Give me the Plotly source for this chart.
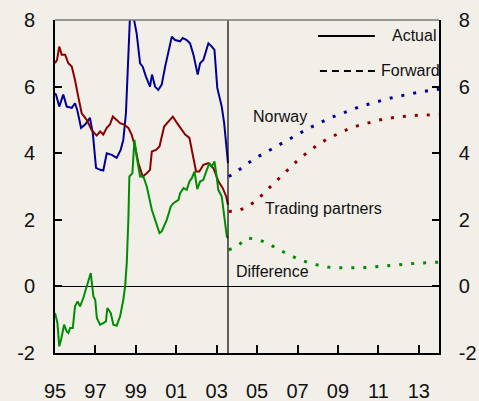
import plotly.graph_objects as go

# Norway, actual
no_years = [1995.0, 1995.05, 1995.21, 1995.41, 1995.58, 1995.83, 1995.99, 1996.1, 1996.29, 1996.49,
            1996.73, 1996.87, 1997.03, 1997.23, 1997.39, 1997.56, 1997.81, 1998.05, 1998.25, 1998.38,
            1998.51, 1998.63, 1998.71, 1998.88, 1999.04, 1999.21, 1999.34, 1999.5, 1999.7, 1999.8,
            1999.95, 2000.11, 2000.28, 2000.45, 2000.61, 2000.78, 2000.94, 2001.19, 2001.32, 2001.52,
            2001.68, 2001.85, 2002.06, 2002.18, 2002.34, 2002.59, 2002.76, 2002.89, 2003.03, 2003.25,
            2003.37, 2003.5, 2003.56]
no_actual = [5.8, 5.76, 5.4, 5.76, 5.4, 5.36, 5.5, 5.3, 4.76, 4.86,
             5.06, 4.6, 3.56, 3.5, 3.48, 4.0, 3.95, 3.86, 4.1, 4.4,
             5.2, 7.1, 8.1, 8.1, 7.6, 6.7, 6.6, 6.3, 6.0, 6.36,
             6.0, 5.9, 6.06, 6.6, 7.0, 7.5, 7.4, 7.36, 7.46, 7.4,
             7.3, 6.96, 6.36, 6.7, 6.8, 7.3, 7.2, 7.1, 5.96, 5.4,
             4.9, 4.2, 3.7]

# Trading partners, actual
tp_years = [1995.0, 1995.1, 1995.21, 1995.33, 1995.5, 1995.66, 1995.83, 1995.99, 1996.15, 1996.32,
            1996.57, 1996.81, 1997.06, 1997.23, 1997.39, 1997.56, 1997.72, 1997.86, 1998.05, 1998.22,
            1998.42, 1998.63, 1998.79, 1998.96, 1999.13, 1999.34, 1999.54, 1999.7, 1999.79, 2000.0,
            2000.17, 2000.28, 2000.4, 2000.61, 2000.83, 2000.99, 2001.19, 2001.44, 2001.65, 2001.82,
            2001.98, 2002.14, 2002.34, 2002.59, 2002.84, 2003.09, 2003.3, 2003.47, 2003.56]
tp_actual = [6.7, 6.8, 7.2, 6.96, 6.96, 6.7, 6.6, 6.2, 5.7, 5.2,
             5.0, 4.7, 4.53, 4.65, 4.56, 4.76, 4.86, 5.1, 5.0, 4.9,
             4.86, 4.76, 4.56, 4.2, 3.7, 3.3, 3.4, 3.5, 4.05, 4.1,
             4.2, 4.5, 4.8, 4.95, 5.1, 4.95, 4.76, 4.56, 4.46, 3.9,
             3.45, 3.45, 3.65, 3.7, 3.55, 3.15, 2.95, 2.7, 2.45]

# Difference, actual
df_years = [1995.0, 1995.05, 1995.12, 1995.21, 1995.3, 1995.45, 1995.58, 1995.66, 1995.75, 1995.88,
            1995.99, 1996.12, 1996.24, 1996.4, 1996.57, 1996.77, 1996.9, 1996.99, 1997.07, 1997.23,
            1997.39, 1997.52, 1997.59, 1997.76, 1997.89, 1998.05, 1998.22, 1998.38, 1998.47, 1998.55,
            1998.63, 1998.68, 1998.83, 1998.93, 1999.04, 1999.21, 1999.37, 1999.54, 1999.79, 2000.0,
            2000.17, 2000.28, 2000.53, 2000.73, 2000.86, 2001.11, 2001.19, 2001.36, 2001.52, 2001.65,
            2001.77, 2001.9, 2002.04, 2002.18, 2002.34, 2002.51, 2002.64, 2002.76, 2002.89, 2003.0,
            2003.08, 2003.25, 2003.45, 2003.5, 2003.56]
df_actual = [-0.8, -0.95, -1.1, -1.8, -1.6, -1.15, -1.35, -1.4, -1.25, -1.25,
             -0.6, -0.45, -0.6, -0.35, 0.0, 0.4, -0.3, -0.4, -0.95, -1.15,
             -1.1, -1.05, -0.65, -0.8, -1.15, -1.18, -0.9, -0.4, 0.0, 0.7,
             2.0, 3.3, 3.4, 4.4, 3.9, 3.3, 3.3, 3.0, 2.3, 1.9,
             1.6, 1.65, 2.0, 2.4, 2.5, 2.6, 2.8, 2.95, 2.9, 3.15,
             3.25, 3.45, 2.92, 3.15, 3.2, 3.5, 3.7, 3.6, 3.75, 3.3,
             2.9, 2.7, 1.76, 1.5, 1.45]

# Forward paths
fw_years = [2003.6, 2004.0, 2004.5, 2005.0, 2005.5, 2006.0, 2006.5, 2007.0, 2007.5, 2008.0,
            2008.5, 2009.0, 2009.5, 2010.0, 2010.5, 2011.0, 2011.5, 2012.0, 2012.5, 2013.0,
            2013.5, 2014.0]
no_forward = [3.3, 3.45, 3.68, 3.88, 4.05, 4.22, 4.4, 4.57, 4.73, 4.88,
              5.03, 5.15, 5.27, 5.38, 5.47, 5.56, 5.64, 5.71, 5.78, 5.83,
              5.88, 5.92]
tp_forward = [2.25, 2.26, 2.38, 2.6, 2.9, 3.2, 3.5, 3.78, 4.03, 4.25,
              4.44, 4.59, 4.72, 4.83, 4.92, 4.99, 5.05, 5.09, 5.12, 5.14,
              5.16, 5.16]
df_forward = [1.1, 1.2, 1.45, 1.42, 1.3, 1.13, 0.97, 0.83, 0.72, 0.64,
              0.58, 0.56, 0.55, 0.56, 0.57, 0.59, 0.62, 0.65, 0.68, 0.7,
              0.72, 0.73]

FORECAST_START = 2003.56
x_tickvals = [1995, 1997, 1999, 2001, 2003, 2005, 2007, 2009, 2011, 2013]
x_ticktext = ['95', '97', '99', '01', '03', '05', '07', '09', '11', '13']
y_tickvals = [-2, 0, 2, 4, 6, 8]
y_ticktext = ['-2', '0', '2', '4', '6', '8']

BLUE = '#000096'
RED = '#8c0000'
GREEN = '#008c00'
BG = '#f2efe9'
LABEL_FONT = dict(family='Liberation Sans Narrow, Arial Narrow, Liberation Sans, Arial', size=16)

fig = go.Figure()

for xs, ys, col in [(no_years, no_actual, BLUE), (tp_years, tp_actual, RED), (df_years, df_actual, GREEN)]:
    fig.add_trace(go.Scatter(x=xs, y=ys, mode='lines', line=dict(color=col, width=2),
                             showlegend=False, hoverinfo='skip'))

for ys, col in [(no_forward, BLUE), (tp_forward, RED), (df_forward, GREEN)]:
    fig.add_trace(go.Scatter(x=fw_years, y=ys, mode='lines', line=dict(color=col, width=3, dash='3px,9px'),
                             showlegend=False, hoverinfo='skip'))

# dummy trace so the right axis shows up
fig.add_trace(go.Scatter(x=[None], y=[None], yaxis='y2', showlegend=False))

fig.update_layout(
    width=479, height=401,
    margin=dict(l=55, r=40, t=20, b=48),
    paper_bgcolor=BG, plot_bgcolor=BG,
    font=dict(family='Liberation Sans, Arial', size=20, color='#111111'),
    xaxis=dict(range=[1995, 2014], tickvals=x_tickvals, ticktext=x_ticktext,
               ticks='inside', ticklen=8, tickwidth=1.5, tickcolor='black',
               showline=True, linecolor='black', linewidth=2, showgrid=False, zeroline=False,
               ticklabelstandoff=19, automargin=False),
    yaxis=dict(range=[-2, 8], tickvals=y_tickvals, ticktext=y_ticktext, ticks='inside', ticklen=7,
               tickwidth=1.5, tickcolor='black', showline=True, linecolor='black', linewidth=2,
               showgrid=False, zeroline=True, zerolinecolor='black', zerolinewidth=1.2,
               ticklabelstandoff=14, automargin=False),
    yaxis2=dict(range=[-2, 8], tickvals=y_tickvals, ticktext=y_ticktext, ticks='inside', ticklen=7,
                tickwidth=1.5, tickcolor='black', showline=True, linecolor='black', linewidth=1.5,
                showgrid=False, zeroline=False, overlaying='y', side='right', ticklabelstandoff=14,
                automargin=False),
    shapes=[
        dict(type='line', xref='x', yref='paper', x0=FORECAST_START, x1=FORECAST_START, y0=0, y1=1,
             line=dict(color='black', width=1.2)),
        dict(type='line', xref='paper', yref='paper', x0=0, x1=1, y0=1, y1=1,
             line=dict(color='#7a7a7a', width=1.5)),
        # legend samples
        dict(type='line', xref='paper', yref='paper', x0=0.685, x1=0.833, y0=0.952, y1=0.952,
             line=dict(color='black', width=2)),
        dict(type='line', xref='paper', yref='paper', x0=0.69, x1=0.841, y0=0.847, y1=0.847,
             line=dict(color='black', width=2, dash='7px,5px')),
    ],
    annotations=[
        dict(text='Actual', xref='paper', yref='paper', x=0.872, y=0.952, xanchor='left',
             yanchor='middle', showarrow=False, font=LABEL_FONT),
        dict(text='Forward', xref='paper', yref='paper', x=0.844, y=0.847, xanchor='left',
             yanchor='middle', showarrow=False, font=LABEL_FONT),
        dict(text='Norway', x=2006.14, y=5.1, showarrow=False, font=LABEL_FONT),
        dict(text='Trading partners', x=2008.29, y=2.33, showarrow=False, font=LABEL_FONT),
        dict(text='Difference', x=2005.77, y=0.44, showarrow=False, font=LABEL_FONT),
    ],
)

# drop the default page margin so the figure sits at the window's corner
fig.write_html("out.html", config={'displayModeBar': False},
               post_script=f"document.body.style.margin='0';document.body.style.background='{BG}';")
